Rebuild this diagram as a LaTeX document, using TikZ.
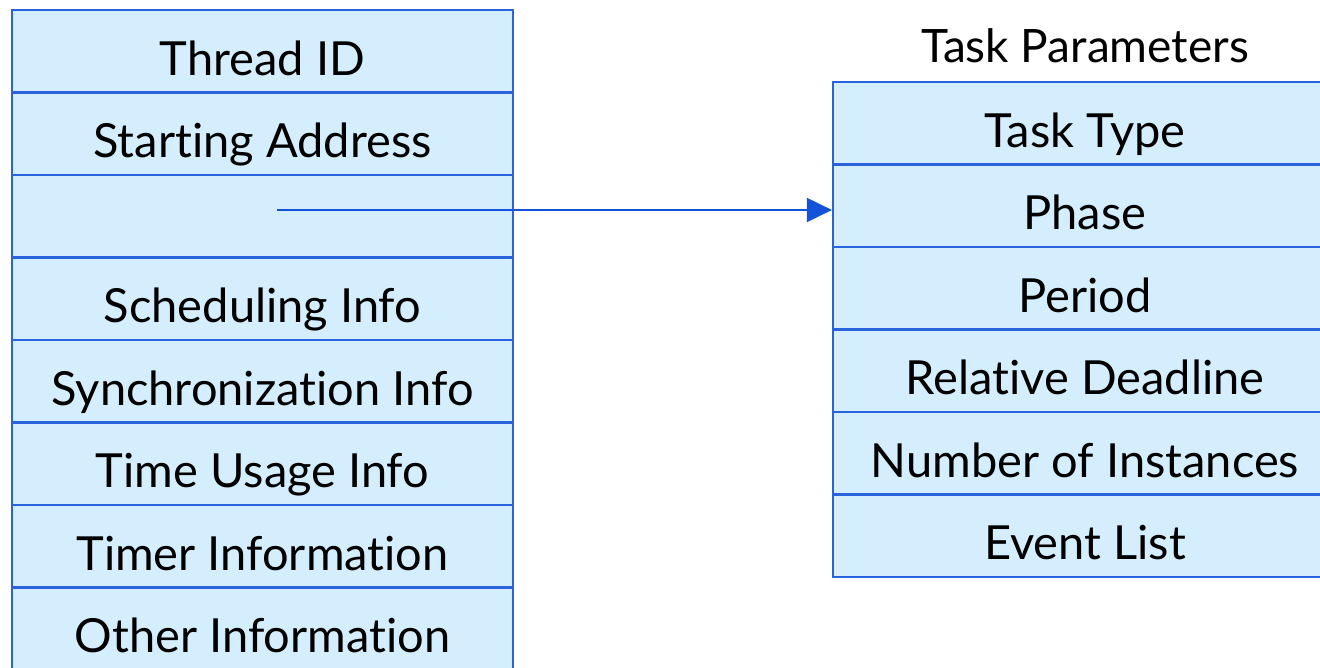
\documentclass[tikz,border=0pt]{standalone}
\usepackage{fontspec}
\setmainfont{Lato}[Ligatures={NoCommon}]
\usetikzlibrary{arrows.meta}
\definecolor{cellfill}{HTML}{D4EEFD}
\definecolor{cellline}{HTML}{2A64DC}
\definecolor{arrowblue}{HTML}{1353D9}
\tikzset{
  cell/.style={draw=cellline, fill=cellfill, line width=2.2pt,
    minimum width=501pt, minimum height=82.5pt, inner sep=0pt,
    text height=50pt, text depth=2pt,
    font=\fontsize{47}{56}\selectfont, text=black},
  rcell/.style={cell, minimum width=504pt},
  link/.style={draw=arrowblue, line width=2pt, -{Triangle[length=25pt,width=24pt]}},
  title/.style={font=\fontsize{46}{54}\selectfont, text=black, inner sep=0pt, anchor=base}
}
\begin{document}
\begin{tikzpicture}[x=1pt,y=-1pt]
\useasboundingbox (0,0) rectangle (1320,667);
\clip (0,0) rectangle (1320,667);
% left block
\node[cell] (l1) at (262.5, 51.25) {Thread ID};
\node[cell] (l2) at (262.5, 133.75) {Starting Address};
\node[cell] (l3) at (262.5, 216.25) {};
\node[cell] (l4) at (262.5, 298.75) {Scheduling Info};
\node[cell] (l5) at (262.5, 381.25) {Synchronization Info};
\node[cell] (l6) at (262.5, 463.75) {Time Usage Info};
\node[cell] (l7) at (262.5, 546.25) {Timer Information};
\node[cell] (l8) at (262.5, 628.75) {Other Information};
% right block
\node[title] (tp) at (1085, 62) {Task Parameters};
\node[rcell] (r1) at (1085, 123.25) {Task Type};
\node[rcell] (r2) at (1085, 205.75) {Phase};
\node[rcell] (r3) at (1085, 288.25) {Period};
\node[rcell] (r4) at (1085, 370.75) {Relative Deadline};
\node[rcell] (r5) at (1085, 453.25) {Number of Instances};
\node[rcell] (r6) at (1085, 535.75) {Event List};
% pointer
\coordinate (ptr) at (277, 210);
\draw[link] (ptr) -- (ptr -| r2.west);
\end{tikzpicture}
\end{document}
